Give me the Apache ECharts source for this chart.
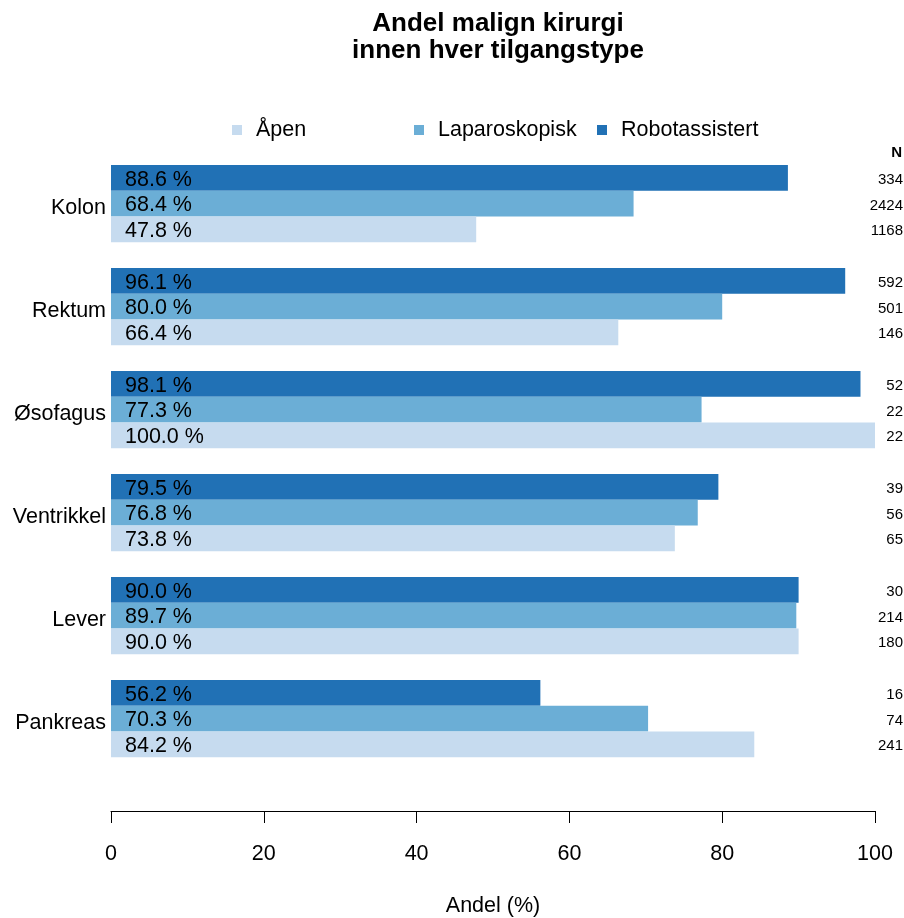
<!DOCTYPE html>
<html>
<head>
<meta charset="utf-8">
<script src="https://cdn.jsdelivr.net/npm/echarts@6/dist/echarts.min.js"></script>
<style>html,body{margin:0;padding:0;background:#fff;}#chart{width:904px;height:918px;}</style>
</head>
<body>
<div id="chart"></div>
<script>
var categories = ['Kolon', 'Rektum', 'Øsofagus', 'Ventrikkel', 'Lever', 'Pankreas'];
var robotValues = [88.6, 96.1, 98.1, 79.5, 90.0, 56.2];
var lapValues = [68.4, 80.0, 77.3, 76.8, 89.7, 70.3];
var openValues = [47.8, 66.4, 100.0, 73.8, 90.0, 84.2];
var robotN = [334, 592, 52, 39, 30, 16];
var lapN = [2424, 501, 22, 56, 214, 74];
var openN = [1168, 146, 22, 65, 180, 241];
var xTicks = [0, 20, 40, 60, 80, 100];

var FONT = 'Liberation Sans, Arial, Helvetica, sans-serif';
var FS = 21.5;

function makeSeries(name, values, ns, color) {
  return {
    name: name,
    type: 'bar',
    data: values,
    itemStyle: { color: color },
    barGap: 0,
    barCategoryGap: '25%',
    label: {
      show: true,
      position: 'insideLeft',
      distance: 14,
      offset: [0, 2],
      fontFamily: FONT,
      formatter: function (p) {
        return '{v|' + p.value.toFixed(1) + ' %}{n|' + ns[p.dataIndex] + '}';
      },
      rich: {
        v: { fontSize: FS, color: '#000', fontFamily: FONT, width: 745, align: 'left' },
        n: { fontSize: 15, color: '#000', fontFamily: FONT, width: 33, align: 'right' }
      }
    }
  };
}

var chart = echarts.init(document.getElementById('chart'));
var legendCommon = {
  orient: 'horizontal',
  top: 119,
  padding: 0,
  icon: 'rect',
  itemWidth: 10,
  itemHeight: 10,
  selectedMode: false,
  textStyle: { fontSize: FS, color: '#000', fontFamily: FONT, padding: [0, 0, 0, 9] }
};
chart.setOption({
  animation: false,
  backgroundColor: '#fff',
  title: {
    text: 'Andel malign kirurgi\ninnen hver tilgangstype',
    left: 493,
    top: 5,
    textAlign: 'center',
    textStyle: { fontSize: 26, fontWeight: 'bold', color: '#000', fontFamily: FONT, lineHeight: 27 }
  },
  legend: [
    Object.assign({}, legendCommon, { left: 232, data: ['Åpen'] }),
    Object.assign({}, legendCommon, { left: 414, data: ['Laparoskopisk'] }),
    Object.assign({}, legendCommon, { left: 597, data: ['Robotassistert'] })
  ],
  graphic: [{
    type: 'text',
    right: 2,
    top: 145,
    style: { text: 'N', fontSize: 15, fontWeight: 'bold', fill: '#000', fontFamily: FONT }
  }],
  grid: { left: 111, right: 29, top: 152, bottom: 148, containLabel: false, outerBoundsMode: 'none' },
  xAxis: {
    type: 'value',
    min: 0,
    max: 100,
    interval: 20,
    offset: 41,
    axisLine: { show: true, lineStyle: { color: '#000', width: 1 } },
    axisTick: { show: true, length: 12, lineStyle: { color: '#000' } },
    splitLine: { show: false },
    axisLabel: { fontSize: FS, color: '#000', fontFamily: FONT, margin: 32,
      customValues: xTicks },
    name: 'Andel (%)',
    nameLocation: 'middle',
    nameGap: 84,
    nameTextStyle: { fontSize: FS, color: '#000', fontFamily: FONT }
  },
  yAxis: {
    type: 'category',
    data: categories,
    inverse: true,
    axisLine: { show: false },
    axisTick: { show: false },
    axisLabel: {
      fontSize: FS, color: '#000', fontFamily: FONT, margin: 5,
      formatter: function (v) { return '{c|' + v + '}'; },
      rich: { c: { fontSize: FS, color: '#000', fontFamily: FONT, padding: [9, 0, 0, 0] } }
    }
  },
  series: [
    makeSeries('Robotassistert', robotValues, robotN, '#2171b5'),
    makeSeries('Laparoskopisk', lapValues, lapN, '#6baed6'),
    makeSeries('Åpen', openValues, openN, '#c6dbef')
  ]
});
</script>
</body>
</html>
